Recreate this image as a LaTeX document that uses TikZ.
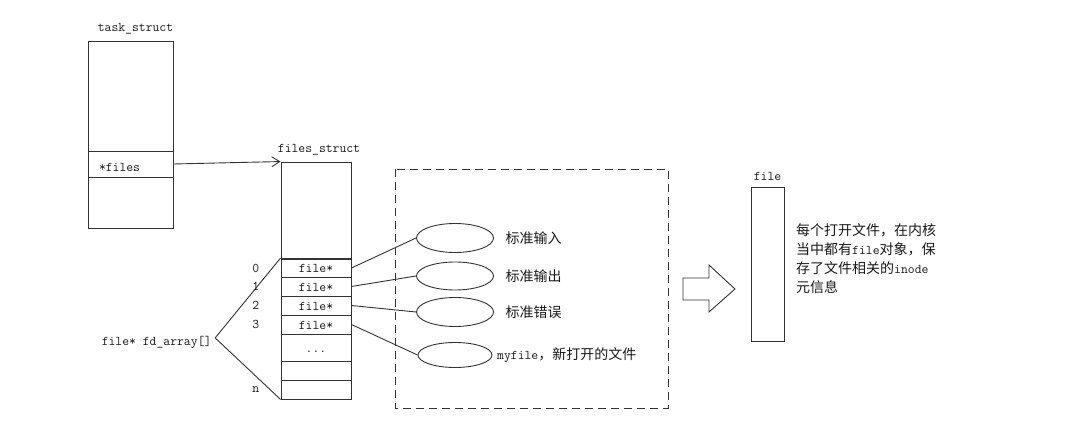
\documentclass[tikz,border=0pt]{standalone}
\usepackage{fontspec}
\newfontfamily\cjk{Noto Sans CJK SC}
\newcommand{\zh}[1]{{\cjk\fontsize{14}{19}\selectfont #1}}
\usetikzlibrary{positioning,shapes.geometric,arrows.meta}

\begin{document}
\begin{tikzpicture}[x=1pt,y=-1pt,line width=0.9pt,color=black!80,
  every node/.style={font=\ttfamily\fontsize{13.3}{19}\selectfont,text=black!90},
  cell/.style={draw,minimum width=70pt,minimum height=19pt,inner sep=0pt,text height=10pt,text depth=0pt},
  tcell/.style={draw,minimum width=85pt,inner sep=0pt},
  slot/.style={draw,ellipse,inner sep=0pt},
  idx/.style={inner sep=0pt}]
\useasboundingbox (0,0) rectangle (1080,446);

% task_struct
\node[tcell,minimum height=110pt] (ttop) at (130.5,96) {};
\node[tcell,minimum height=26pt,text width=63pt,align=left,text height=16pt,text depth=0pt] (tfiles) at (130.5,164) {*files};
\node[tcell,minimum height=51pt] (tbot) at (130.5,202.5) {};
\node[above=3pt of ttop,xshift=5pt] (tname) {task\_struct};

% files_struct
\node[cell,minimum height=97pt] (fstop) at (316,210.5) {};
\node[above=3pt of fstop,xshift=3pt] (fsname) {files\_struct};
\foreach \i/\y in {0/268,1/286.5,2/305.5,3/324.5}
  \node[cell] (r\i) at (316,\y) {file*};
\node[cell,minimum height=27pt] (rdots) at (316,347.5) {...};
\node[cell] (r5) at (316,370.5) {};
\node[cell] (rn) at (316,389.5) {};
\draw[-{Straight Barb[length=8pt,width=10pt]}] (tfiles.east) -- (fstop.north west);

% indices
\foreach \i in {0,...,3}
  \node[idx,left=21pt of r\i] (i\i) {\i};
\node[idx,left=21pt of rn] (iN) {n};

% fd_array
\node[anchor=base west] (fdarr) at (98,346) {file* fd\_array[]};
\coordinate (fdtip) at ([yshift=5pt]fdarr.east);
\draw (fdtip) -- (r0.north west);
\draw (fdtip) -- (rn.south west);

% ouverts
\draw[dash pattern=on 8pt off 5pt] (395,169) rectangle (668,408);
\foreach \i/\y/\w/\h in {0/238/77/29,1/276/77/28,2/312/77/29,3/355/74/25}
  \node[slot,minimum width=\w pt,minimum height=\h pt] (e\i) at (455,\y) {};
\foreach \i in {0,...,3}
  \draw (r\i.east) -- (e\i.west);
\node[right=8pt of e0] (l0) {\zh{标准输入}};
\node[right=8pt of e1] (l1) {\zh{标准输出}};
\node[right=8pt of e2] (l2) {\zh{标准错误}};
\node[right=1pt of e3] (l3) {myfile\zh{，新打开的文件}};

% file
\draw (683,278) -- (709,278) -- (709,265) -- (735,289) -- (709,312) -- (709,300) -- (683,300) -- cycle;
\node[draw,minimum width=33pt,minimum height=154pt,inner sep=0pt] (fobj) at (767.5,264) {};
\node[above=2pt of fobj] (fname) {file};
\node[right=8pt of fobj,yshift=5pt,align=left] (fdesc) {\zh{每个打开文件，在内核}\\\zh{当中都有}file\zh{对象，保}\\\zh{存了文件相关的}inode\\\zh{元信息}};

\end{tikzpicture}
\end{document}
